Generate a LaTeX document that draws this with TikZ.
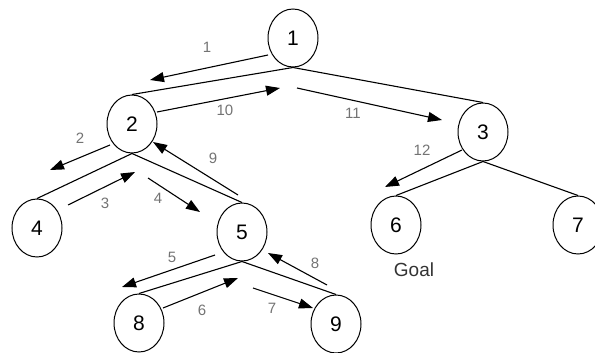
\documentclass[tikz,border=0pt]{standalone}
\usepackage{fontspec}
\setmainfont{Liberation Sans}
\usetikzlibrary{shapes.geometric,arrows.meta}

\begin{document}
\begin{tikzpicture}[
    x=1pt, y=-1pt,
    state/.style={
        draw=black,
        ellipse,
        line width=1pt,
        minimum width=50pt,
        minimum height=58pt,
        inner sep=0pt,
        font=\fontsize{21}{24}\selectfont
    },
    edge/.style={draw=black, line width=1.1pt},
    search/.style={-{Triangle[length=14pt,width=10pt]}, line width=1.1pt, draw=black},
    numlabel/.style={text=black!55, inner sep=0pt, font=\fontsize{15}{18}\selectfont},
    goallabel/.style={text=black!80, inner sep=0pt, font=\fontsize{19}{22}\selectfont}
]

\useasboundingbox (0,0) rectangle (595,353);

\node[state] (n1) at (293,38) {1};
\node[state] (n2) at (132,124) {2};
\node[state] (n3) at (483,132) {3};
\node[state] (n4) at (37,228) {4};
\node[state] (n5) at (242,232) {5};
\node[state] (n6) at (396,225) {6};
\node[state] (n7) at (578,225) {7};
\node[state] (n8) at (139,323) {8};
\node[state] (n9) at (336,324) {9};

\node[goallabel] (goal) at (414,270) {Goal};

\draw[edge] (n1.south) -- (n2.north);
\draw[edge] (n1.south) -- (n3.north);
\draw[edge] (n2.south) -- (n4.north);
\draw[edge] (n2.south) -- (n5.north);
\draw[edge] (n3.south) -- (n6.north);
\draw[edge] (n3.south) -- (n7.north);
\draw[edge] (n5.south) -- (n8.north);
\draw[edge] (n5.south) -- (n9.north);

\coordinate (s1a) at (268,55);  \coordinate (s1b) at (150,80);
\coordinate (s2a) at (110,145); \coordinate (s2b) at (50,170);
\coordinate (s3a) at (68,205);  \coordinate (s3b) at (135,172);
\coordinate (s4a) at (148,178); \coordinate (s4b) at (200,212);
\coordinate (s5a) at (215,255); \coordinate (s5b) at (122,287);
\coordinate (s6a) at (163,308); \coordinate (s6b) at (238,278);
\coordinate (s7a) at (253,288); \coordinate (s7b) at (313,308);
\coordinate (s8a) at (327,285); \coordinate (s8b) at (268,253);
\coordinate (s9a) at (238,195); \coordinate (s9b) at (153,142);
\coordinate (s10a) at (157,112); \coordinate (s10b) at (280,88);
\coordinate (s11a) at (297,88);  \coordinate (s11b) at (442,120);
\coordinate (s12a) at (462,150); \coordinate (s12b) at (385,187);

\draw[search] (s1a) -- (s1b);
\draw[search] (s2a) -- (s2b);
\draw[search] (s3a) -- (s3b);
\draw[search] (s4a) -- (s4b);
\draw[search] (s5a) -- (s5b);
\draw[search] (s6a) -- (s6b);
\draw[search] (s7a) -- (s7b);
\draw[search] (s8a) -- (s8b);
\draw[search] (s9a) -- (s9b);
\draw[search] (s10a) -- (s10b);
\draw[search] (s11a) -- (s11b);
\draw[search] (s12a) -- (s12b);

\node[numlabel] (l1) at (207,47) {1};
\node[numlabel] (l2) at (80,138) {2};
\node[numlabel] (l3) at (105,203) {3};
\node[numlabel] (l4) at (158,198) {4};
\node[numlabel] (l5) at (172,257) {5};
\node[numlabel] (l6) at (202,310) {6};
\node[numlabel] (l7) at (272,308) {7};
\node[numlabel] (l8) at (315,263) {8};
\node[numlabel] (l9) at (213,158) {9};
\node[numlabel] (l10) at (225,110) {10};
\node[numlabel] (l11) at (353,113) {11};
\node[numlabel] (l12) at (422,150) {12};

\end{tikzpicture}
\end{document}
